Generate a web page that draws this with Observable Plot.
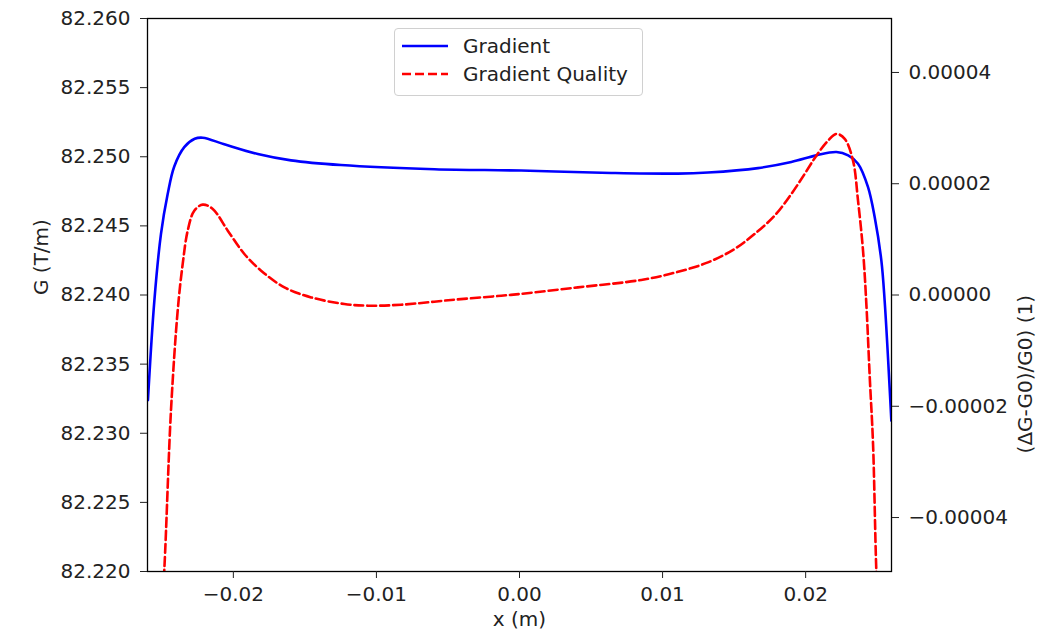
<!DOCTYPE html>
<html>
<head>
<meta charset="utf-8">
<script src="https://cdn.jsdelivr.net/npm/d3@7"></script>
<script src="https://cdn.jsdelivr.net/npm/@observablehq/plot@0.6"></script>
<style>
  html, body { margin: 0; padding: 0; background: #fff; }
  #wrap { position: relative; width: 1053px; height: 638px; font-family: "DejaVu Sans", sans-serif; }
  #legend { position: absolute; left: 394px; top: 28px; width: 247px; height: 66px; border: 1px solid #d0d0d0; border-radius: 4px; background: rgba(255,255,255,0.8); font-size: 20px; color: #222; }
  .row { position: absolute; left: 0; height: 24px; display: flex; align-items: center; }
  .row svg { margin-left: 7px; margin-right: 15px; }
</style>
</head>
<body>
<div id="wrap"></div>
<script>
// ---- data ----
const gradX = [-0.02597, -0.02552, -0.02506, -0.02459, -0.02413, -0.02343, -0.02270, -0.02214, -0.02063, -0.01829, -0.01597, -0.01248, -0.00594, 0.00012, 0.00641, 0.01108, 0.01317, 0.01667, 0.01900, 0.02075, 0.02215, 0.02297, 0.02366, 0.02436, 0.02483, 0.02529, 0.02552, 0.02599];
const gradG = [82.2324, 82.2396, 82.2444, 82.2473, 82.2493, 82.2507, 82.2513, 82.25138, 82.2509, 82.2502, 82.24974, 82.2494, 82.2491, 82.2490, 82.24883, 82.24878, 82.24886, 82.24918, 82.24962, 82.2501, 82.25034, 82.2501, 82.2495, 82.2478, 82.2456, 82.2425, 82.2396, 82.2309];

const qualX = [-0.0252, -0.02483, -0.02436, -0.02389, -0.02354, -0.02319, -0.02273, -0.02214, -0.02144, -0.02039, -0.01923, -0.01806, -0.01643, -0.01456, -0.01224, -0.0106, -0.00827, -0.00478, -0.00128, 0.00012, 0.00408, 0.00851, 0.01084, 0.01317, 0.01503, 0.01643, 0.01783, 0.01900, 0.01993, 0.02075, 0.02157, 0.02215, 0.02273, 0.02331, 0.02366, 0.02401, 0.02425, 0.02448, 0.02471, 0.02494, 0.0252];
const qualV = [-6.5e-5, -4.96e-5, -2.08e-5, -0.28e-5, 0.558e-5, 1.157e-5, 1.516e-5, 1.624e-5, 1.547e-5, 1.157e-5, 0.737e-5, 0.437e-5, 0.137e-5, -0.043e-5, -0.162e-5, -0.192e-5, -0.174e-5, -0.09e-5, -0.013e-5, 0.02e-5, 0.137e-5, 0.27e-5, 0.40e-5, 0.586e-5, 0.827e-5, 1.097e-5, 1.426e-5, 1.817e-5, 2.176e-5, 2.505e-5, 2.775e-5, 2.896e-5, 2.806e-5, 2.415e-5, 1.696e-5, 0.797e-5, -0.2e-5, -1.48e-5, -2.68e-5, -4.96e-5, -6.5e-5];

const xTicks = [-0.02, -0.01, 0.00, 0.01, 0.02];
const leftTicks = [82.220, 82.225, 82.230, 82.235, 82.240, 82.245, 82.250, 82.255, 82.260];
const rightTicks = [-0.00004, -0.00002, 0.00000, 0.00002, 0.00004];

const xDomain = [-0.026, 0.026];
const leftDomain = [82.220, 82.260];
const rightDomain = [-0.0000497, 0.0000497];

const seriesNames = ["Gradient", "Gradient Quality"];
const xLabel = "x (m)";
const leftLabel = "G (T/m)";
const rightLabel = "(ΔG-G0)/G0) (1)";

// ---- right axis mapping onto the left scale ----
const toLeft = v => leftDomain[0] + (v - rightDomain[0]) / (rightDomain[1] - rightDomain[0]) * (leftDomain[1] - leftDomain[0]);
const fromLeft = g => rightDomain[0] + (g - leftDomain[0]) / (leftDomain[1] - leftDomain[0]) * (rightDomain[1] - rightDomain[0]);

const grad = gradX.map((x, i) => ({x, y: gradG[i]}));
const qual = qualX.map((x, i) => ({x, y: toLeft(qualV[i])}));

const fx = d3.format(".2f"), fl = d3.format(".3f"), fr = d3.format(".5f");

const chart = Plot.plot({
  width: 1053,
  height: 638,
  marginLeft: 147,
  marginRight: 162,
  marginTop: 18,
  marginBottom: 67,
  style: {fontFamily: "DejaVu Sans, sans-serif", fontSize: "20px", color: "#222", background: "white"},
  x: {domain: xDomain},
  y: {domain: leftDomain},
  marks: [
    Plot.line(grad, {x: "x", y: "y", stroke: "#0000ff", strokeWidth: 2.6, curve: "catmull-rom", clip: true}),
    Plot.line(qual, {x: "x", y: "y", stroke: "#ff0000", strokeWidth: 2.6, strokeDasharray: "9,4", curve: "catmull-rom", clip: true}),
    Plot.frame({stroke: "#000", strokeWidth: 1.3}),
    Plot.axisX({ticks: xTicks, tickFormat: fx, tickSize: 7, tickPadding: 8, label: null}),
    Plot.axisY({anchor: "left", ticks: leftTicks, tickFormat: fl, tickSize: 7, tickPadding: 10, label: null}),
    Plot.axisY({anchor: "right", ticks: rightTicks.map(toLeft), tickFormat: d => fr(Math.round(fromLeft(d) * 1e7) / 1e7), tickSize: 7, tickPadding: 10, label: null}),
    Plot.text([xLabel], {frameAnchor: "bottom", dy: 54, fill: "#222"}),
    Plot.text([leftLabel], {frameAnchor: "left", dx: -106, rotate: -90, fill: "#222"}),
    Plot.text([rightLabel], {frameAnchor: "right", dx: 134, rotate: -90, fill: "#222"})
  ]
});
chart.style.display = "block";
const wrap = document.getElementById("wrap");
wrap.appendChild(chart);

// legend
const legend = document.createElement("div");
legend.id = "legend";
legend.innerHTML = `
  <div class="row" style="top:5px"><svg width="46" height="10"><line x1="0" x2="46" y1="5" y2="5" stroke="#0000ff" stroke-width="2.6"/></svg><span>${seriesNames[0]}</span></div>
  <div class="row" style="top:33px"><svg width="46" height="10"><line x1="0" x2="46" y1="5" y2="5" stroke="#ff0000" stroke-width="2.6" stroke-dasharray="9,4"/></svg><span>${seriesNames[1]}</span></div>`;
wrap.appendChild(legend);
</script>
</body>
</html>
